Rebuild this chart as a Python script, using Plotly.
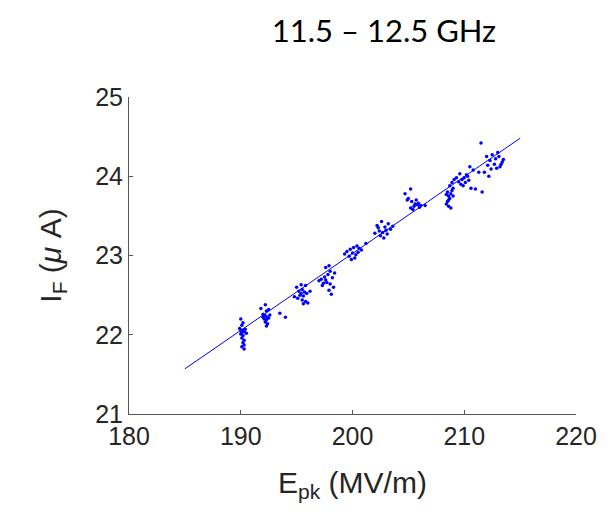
import plotly.graph_objects as go

epk = [
    190.0, 190.2, 190.1, 189.9, 190.0, 190.2, 190.1, 190.3, 190.0, 190.2, 190.1, 190.3, 190.2, 190.3, 190.1, 190.3, 190.4, 190.5,
    191.8, 192.2, 192.5, 192.0, 192.2, 192.4, 192.1, 192.3, 192.5, 192.2, 192.4, 192.3, 192.6, 193.5, 194.0, 192.0, 192.3,
    195.0, 195.4, 195.8, 195.2, 195.5, 195.7, 195.3, 195.6, 195.9, 195.1, 195.5, 195.8, 195.6, 196.0, 196.2, 195.4, 194.8,
    197.2, 197.5, 197.8, 198.0, 197.9, 197.6, 198.2, 198.4, 197.4, 197.7, 198.0, 197.3, 198.3, 197.9, 198.1, 197.0, 197.6,
    199.5, 199.8, 200.1, 200.4, 200.6, 200.0, 200.3, 199.7, 200.2, 200.5, 199.9, 200.8, 201.2, 199.3,
    202.2, 202.6, 202.9, 203.2, 202.4, 202.7, 203.0, 203.4, 202.5, 202.8, 203.1, 202.3, 203.6, 202.0,
    204.7, 205.2, 205.0, 205.3, 205.6, 205.5, 205.8, 206.0, 205.2, 205.9, 206.1, 205.4, 204.9, 206.5, 205.7,
    208.4, 208.6, 208.8, 208.5, 208.7, 208.6, 208.8, 208.5, 208.9, 209.0, 208.7, 208.9, 209.1, 209.3, 208.6, 208.4, 209.0,
    209.5, 209.8, 210.0, 210.3, 209.7, 210.1, 209.9, 210.4, 210.6, 209.6, 210.8, 210.5, 211.0, 210.2, 211.3,
    211.5, 212.0, 212.3, 212.5, 212.8, 213.0, 212.7, 213.2, 213.4, 212.9, 213.5, 211.8, 212.2, 211.6, 213.1, 212.4, 213.3, 212.1,
]
i_f = [
    22.20, 22.15, 22.12, 22.08, 22.06, 22.05, 22.03, 22.04, 22.01, 21.99, 21.96, 21.93, 21.90, 21.87, 21.85, 21.82, 22.07, 22.02,
    22.33, 22.38, 22.32, 22.26, 22.24, 22.22, 22.20, 22.19, 22.21, 22.16, 22.14, 22.11, 22.25, 22.27, 22.22, 22.22, 22.30,
    22.60, 22.63, 22.62, 22.55, 22.57, 22.54, 22.50, 22.49, 22.52, 22.46, 22.44, 22.42, 22.39, 22.40, 22.55, 22.52, 22.48,
    22.70, 22.73, 22.76, 22.80, 22.87, 22.85, 22.72, 22.78, 22.65, 22.66, 22.64, 22.62, 22.60, 22.56, 22.51, 22.68, 22.69,
    23.05, 23.08, 23.10, 23.12, 23.09, 23.03, 23.01, 22.99, 22.97, 23.04, 22.95, 23.07, 23.15, 23.02,
    23.38, 23.43, 23.36, 23.40, 23.31, 23.29, 23.32, 23.33, 23.25, 23.22, 23.27, 23.35, 23.37, 23.28,
    23.78, 23.84, 23.72, 23.68, 23.65, 23.62, 23.64, 23.61, 23.60, 23.66, 23.63, 23.58, 23.70, 23.63, 23.70,
    23.65, 23.62, 23.60, 23.68, 23.72, 23.75, 23.78, 23.80, 23.82, 23.85, 23.88, 23.92, 23.96, 23.98, 23.70, 23.77, 23.75,
    23.93, 23.96, 23.98, 24.00, 23.90, 23.92, 23.88, 23.95, 23.85, 24.03, 24.08, 24.12, 23.84, 24.02, 24.05,
    24.42, 24.25, 24.20, 24.27, 24.22, 24.30, 24.15, 24.12, 24.18, 24.10, 24.21, 24.05, 24.00, 23.80, 24.25, 24.09, 24.15, 24.14,
]

# Linear fit end points
fit_x = [185, 215]
fit_y = [21.57, 24.48]

x_ticks = [180, 190, 200, 210, 220]
y_ticks = [21, 22, 23, 24, 25]

fig = go.Figure()
fig.add_trace(go.Scatter(x=fit_x, y=fit_y, mode="lines",
                         line=dict(color="#0000FF", width=1), showlegend=False))
fig.add_trace(go.Scatter(x=epk, y=i_f, mode="markers",
                         marker=dict(color="#0000FF", size=3.5), showlegend=False))

sans = "Liberation Sans, Arial, sans-serif"
axis_font = dict(family=sans, size=25, color="#262626")
label_font = dict(family=sans, size=30, color="#262626")
fig.update_layout(
    width=613, height=516,
    margin=dict(l=121, r=45, t=89, b=110),
    paper_bgcolor="white", plot_bgcolor="white",
    title=dict(text="11.5 – 12.5 GHz", x=376 / 613, xanchor="center",
               y=1 - 23 / 516, yanchor="middle",
               font=dict(family="Lato, Open Sans, sans-serif", size=31, color="black")),
    xaxis=dict(range=[180, 220], tickvals=x_ticks, ticks="inside", ticklen=4,
               tickcolor="#555", showline=True, linecolor="#555", linewidth=1,
               showgrid=False, zeroline=False, mirror=False, tickfont=axis_font,
               title=dict(text="E<sub>pk</sub> (MV/m)", font=label_font, standoff=22)),
    yaxis=dict(range=[21, 25], tickvals=y_ticks, ticks="inside", ticklen=4,
               tickcolor="#555", showline=True, linecolor="#555", linewidth=1,
               showgrid=False, zeroline=False, mirror=False, tickfont=axis_font,
               title=dict(text="I<sub>F</sub> (<i>μ</i> A)", font=label_font, standoff=24)),
)

fig.write_html("out.html")
